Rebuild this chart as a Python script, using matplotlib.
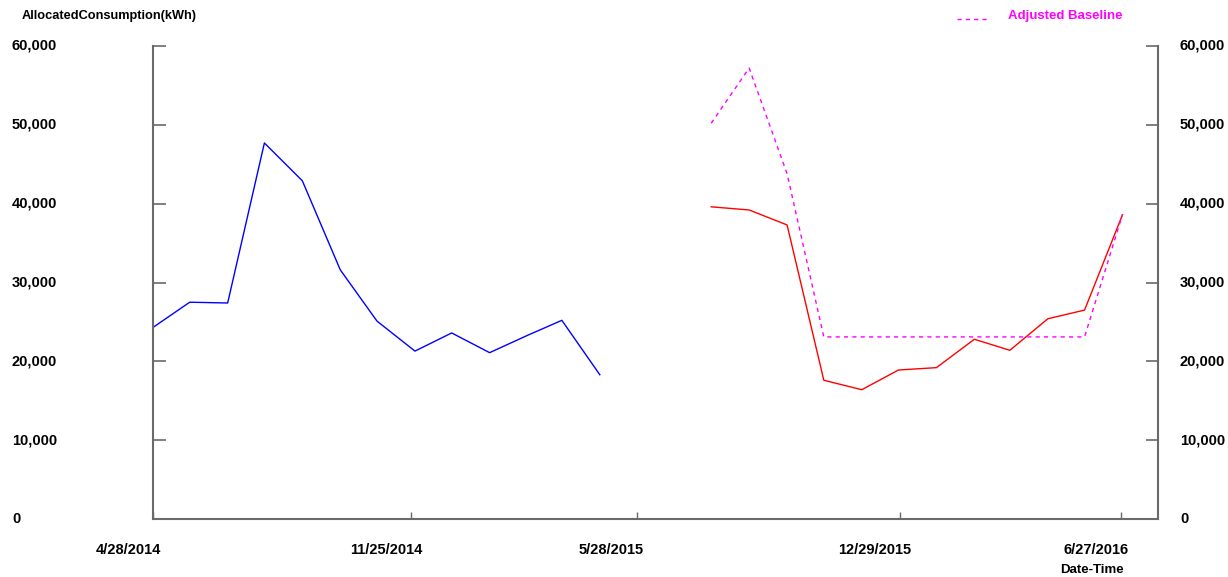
import numpy as np
import pandas as pd
import matplotlib
matplotlib.use("Agg")
import matplotlib.pyplot as plt
import matplotlib.transforms as mtransforms

plt.rcParams['font.family'] = ['Liberation Sans', 'DejaVu Sans']

# monthly readings
actual_dates = pd.date_range("2014-04-28", periods=13, freq=pd.DateOffset(months=1))
actual_kwh = [24300, 27500, 27400, 47700, 42900, 31600, 25100,
              21300, 23600, 21100, 23300, 25200, 18300]

report_dates = pd.date_range("2015-07-28", periods=12, freq=pd.DateOffset(months=1))
report_kwh = [39600, 39200, 37300, 17600, 16400, 18900, 19200,
              22800, 21400, 25400, 26500, 38600]
baseline_kwh = [50200, 57200, 43800, 23100, 23100, 23100, 23100,
                23100, 23100, 23100, 23100, 38600]

tick_dates = pd.to_datetime(["2014-04-28", "2014-11-25", "2015-05-28",
                             "2015-12-29", "2016-06-27"])
tick_labels = ["4/28/2014", "11/25/2014", "5/28/2015", "12/29/2015", "6/27/2016"]
y_ticks = [0, 10000, 20000, 30000, 40000, 50000, 60000]

fig = plt.figure(figsize=(12.28, 5.77), dpi=100)
ax = fig.add_axes([153 / 1228, 1 - 519 / 577, 1005 / 1228, 473 / 577])

ax.plot(actual_dates, actual_kwh, color="#0000ff", lw=1.0)
ax.plot(report_dates, report_kwh, color="#ff0000", lw=1.0)
ax.plot(report_dates, baseline_kwh, color="#ff00ff", lw=1.0,
        linestyle=(0, (3, 3)))

ax.set_xlim(pd.Timestamp("2014-04-28"), pd.Timestamp("2016-07-27"))
ax.set_ylim(0, 60000)

spine_col = "#6a6a6a"
for s in ["left", "bottom", "right"]:
    ax.spines[s].set_color(spine_col)
    ax.spines[s].set_linewidth(1.5)
ax.spines["top"].set_visible(False)

ax.set_xticks(tick_dates)
ax.set_xticklabels(tick_labels)
ax.set_yticks(y_ticks)
ax.set_yticklabels([])
ax.tick_params(axis="x", direction="in", length=5, width=1, color=spine_col,
               pad=17, labelsize=10.5)
# date labels sit a little left of their ticks
shift = mtransforms.ScaledTranslation(-25 / 100, 0, fig.dpi_scale_trans)
for lbl in ax.get_xticklabels():
    lbl.set_fontweight("bold")
    lbl.set_transform(lbl.get_transform() + shift)
ax.tick_params(axis="y", direction="in", length=9, width=1.2, color=spine_col,
               left=True, right=True)

# y labels: left-aligned at figure edge, and right side of the axis
for v in y_ticks:
    txt = "{:,}".format(v)
    ax.text(-141 / 1005, v, txt, transform=ax.get_yaxis_transform(),
            ha="left", va="center", fontsize=10.5, fontweight="bold")
    ax.text(1 + 22 / 1005, v, txt, transform=ax.get_yaxis_transform(),
            ha="left", va="center", fontsize=10.5, fontweight="bold")

fig.text(22 / 1228, 1 - 16 / 577, "AllocatedConsumption(kWh)", ha="left",
         va="center", fontsize=9.2, fontweight="bold")
fig.text(1060 / 1228, 1 - 570 / 577, "Date-Time", ha="left", va="center",
         fontsize=9.5, fontweight="bold")

# legend entry at top right
fig.lines.append(plt.Line2D([957 / 1228, 988 / 1228], [1 - 19 / 577, 1 - 19 / 577],
                            transform=fig.transFigure, color="#ff00ff", lw=1.0,
                            linestyle=(0, (3, 3))))
fig.text(1008 / 1228, 1 - 16 / 577, "Adjusted Baseline", ha="left", va="center",
         fontsize=9.5, fontweight="bold", color="#ff00ff")

fig.savefig("out.png", dpi=100)
